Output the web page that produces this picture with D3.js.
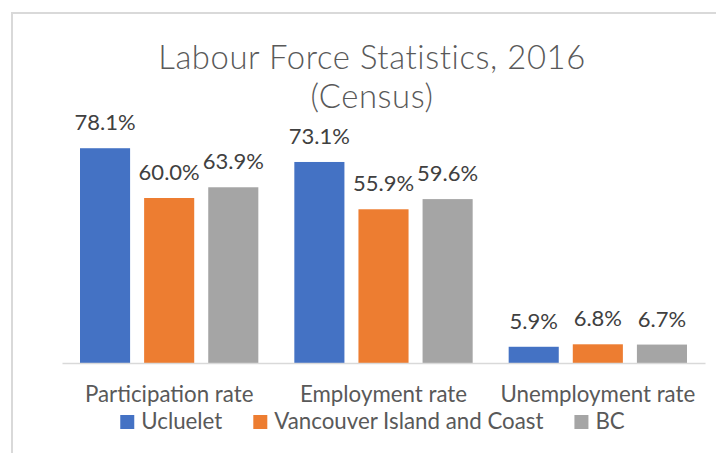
<!DOCTYPE html>
<html>
<head>
<meta charset="utf-8">
<script src="https://cdn.jsdelivr.net/npm/d3@7/dist/d3.min.js"></script>
<style>
  html, body { margin: 0; padding: 0; background: #fff; }
  svg { display: block; }
  text { font-family: Lato, "Open Sans", sans-serif; }
</style>
</head>
<body>
<svg id="chart" width="716" height="453"></svg>
<script>
const titleLines = ["Labour Force Statistics, 2016", "(Census)"];
const categories = ["Participation rate", "Employment rate", "Unemployment rate"];
const seriesNames = ["Ucluelet", "Vancouver Island and Coast", "BC"];
const seriesColors = ["#4472C4", "#ED7D31", "#A5A5A5"];
const ucluelet = [78.1, 73.1, 5.9];
const vancouverIsland = [60.0, 55.9, 6.8];
const bc = [63.9, 59.6, 6.7];
const seriesValues = [ucluelet, vancouverIsland, bc];

const svg = d3.select("#chart");
const centerX = 372;

// chart border
svg.append("rect")
  .attr("x", 12).attr("y", 13)
  .attr("width", 800).attr("height", 500)
  .attr("fill", "none").attr("stroke", "#d9d9d9").attr("stroke-width", 2);

// title
svg.append("g").selectAll("text").data(titleLines).join("text")
  .attr("x", centerX)
  .attr("y", (d, i) => 68.5 + i * 39.5)
  .attr("text-anchor", "middle")
  .attr("fill", "#595959").attr("font-size", 32.8).attr("font-weight", 300)
  .attr("letter-spacing", 0.6)
  .text(d => d);

const plotLeft = 62, plotRight = 705, baseY = 363;
const y = d3.scaleLinear().domain([0, 90]).range([baseY, baseY - 90 * 2.75]);
const x0 = d3.scaleBand().domain(categories).range([plotLeft, plotRight]).padding(0);
const groupPad = 18;
const x1 = d3.scaleBand().domain(seriesNames)
  .range([groupPad, x0.bandwidth() - groupPad]).paddingInner(0.21875).paddingOuter(0);

const data = [];
categories.forEach((c, ci) => {
  seriesNames.forEach((s, si) => {
    data.push({ category: c, series: s, value: seriesValues[si][ci], color: seriesColors[si] });
  });
});

// bars
svg.append("g").selectAll("rect").data(data).join("rect")
  .attr("x", d => x0(d.category) + x1(d.series))
  .attr("y", d => y(d.value))
  .attr("width", x1.bandwidth())
  .attr("height", d => baseY - y(d.value))
  .attr("fill", d => d.color);

// baseline axis
const xAxis = d3.axisBottom(x0).tickSize(0).tickPadding(0);
const axisG = svg.append("g").attr("transform", `translate(0,${baseY})`).call(xAxis);
axisG.select(".domain").attr("stroke", "#d9d9d9").attr("stroke-width", 1.5);
axisG.selectAll(".tick text")
  .attr("y", 39).attr("dy", 0)
  .attr("font-family", "Lato, 'Open Sans', sans-serif")
  .attr("font-size", 22.3).attr("fill", "#595959");

// value labels
svg.append("g").selectAll("text").data(data).join("text")
  .attr("x", d => x0(d.category) + x1(d.series) + x1.bandwidth() / 2)
  .attr("y", d => y(d.value) - 18)
  .attr("text-anchor", "middle")
  .attr("font-size", 22).attr("fill", "#404040")
  .text(d => d.value.toFixed(1) + "%");

// legend
const legend = svg.append("g");
const items = legend.selectAll("g").data(seriesNames).join("g");
items.append("rect")
  .attr("width", 14).attr("height", 14).attr("y", 415)
  .attr("fill", (d, i) => seriesColors[i]);
items.append("text")
  .attr("x", 21).attr("y", 429)
  .attr("font-size", 22.3).attr("fill", "#595959")
  .text(d => d);
const widths = [];
items.each(function () {
  const w = d3.select(this).select("text").node().getComputedTextLength();
  widths.push(21 + w);
});
const spacing = 31;
const total = d3.sum(widths) + spacing * (widths.length - 1);
let cx = centerX + 0.5 - total / 2;
items.each(function (d, i) {
  d3.select(this).attr("transform", `translate(${cx},0)`);
  cx += widths[i] + spacing;
});
</script>
</body>
</html>
